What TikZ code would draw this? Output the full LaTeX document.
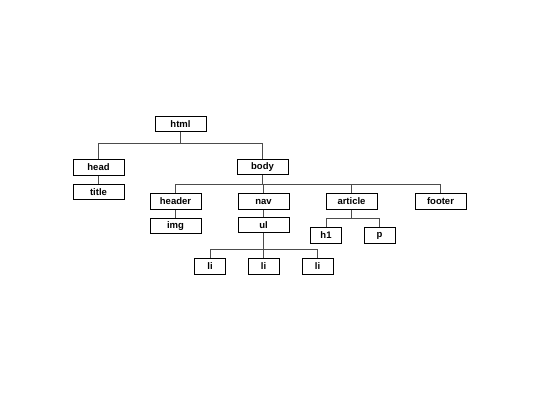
\documentclass[tikz,border=0pt]{standalone}
\usepackage{fontspec}
\setmainfont{Liberation Sans}
\usepackage{tikz}
\usetikzlibrary{positioning}
\usetikzlibrary{calc}
\tikzset{tag/.style={draw,rectangle,line width=1pt,minimum width=51pt,minimum height=15.5pt,inner sep=0pt,font=\fontsize{9.5}{11}\selectfont\bfseries},
smalltag/.style={tag,minimum width=31pt},
edge/.style={line width=0.6pt,black!70}}

\begin{document}
\begin{tikzpicture}[x=1pt,y=-1pt]
\useasboundingbox (0,0) rectangle (540,405);
\node (html) at (180.5,124) [tag] {html};
\node (head) at (98.5,167.5) [tag] {head};
\node (title) at (98.5,192) [tag] {title};
\node (body) at (262.5,167) [tag] {body};
\draw [edge] (html.south) -- ++(0,11) -| (head.north);
\draw [edge] (html.south) -- ++(0,11) -| (body.north);
\draw [edge] (head) -- (title);

\node (header) at (175.5,201.5) [tag] {header};
\node (nav) at (263.5,201.5) [tag] {nav};
\node (article) at (351.5,201.5) [tag] {article};
\node (footer) at (440.5,201.5) [tag] {footer};
\foreach \c in {header,nav,article,footer} {
\draw [edge] (body.south) -- ++(0,9) -| (\c.north);
}

\node (img) at (175.5,226) [tag] {img};
\node (ul) at (263.5,225) [tag] {ul};
\draw [edge] (header) -- (img);
\draw [edge] (nav) -- (ul);

\node (h1) at (326,235.5) [smalltag] {h1};
\node (p) at (379.5,235.5) [smalltag] {p};
\foreach \c in {h1,p} {
\draw [edge] (article.south) -- ++(0,8.5) -| (\c.north);
}

\foreach \i / \x in {1 / 210, 2 / 263.5, 3 / 317.5} {
\node (li\i) at (\x,266.5) [smalltag] {li};
\draw [edge] (ul.south) -- ++(0,16.5) -| (li\i.north);
}
\end{tikzpicture}
\end{document}
